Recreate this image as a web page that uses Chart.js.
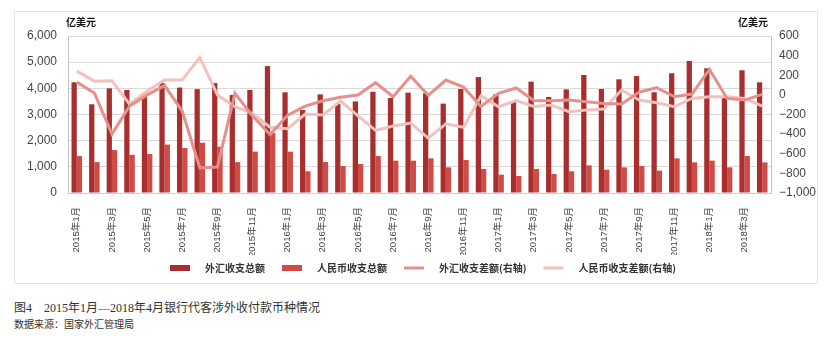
<!DOCTYPE html>
<html>
<head>
<meta charset="utf-8">
<script src="https://cdn.jsdelivr.net/npm/chart.js@4/dist/chart.umd.min.js"></script>
<style>
  body { margin: 0; background: #fff; width: 837px; height: 337px; position: relative; overflow: hidden; }
  .panel { position: absolute; left: 14px; top: 11px; width: 802px; height: 271px; border: 1px solid #e3e3e3; }
  .chart-box { position: absolute; left: 0; top: 0; width: 837px; height: 290px; }
  .caption { position: absolute; left: 14px; top: 298px; font: 12px 'Liberation Serif', 'Noto Sans CJK SC', serif; color: #333; white-space: pre; }
  .source { position: absolute; left: 14px; top: 316px; font: 10px 'Noto Sans CJK SC', sans-serif; color: #333; }
</style>
</head>
<body>
<div class="panel"></div>
<div class="chart-box"><canvas id="myChart" width="837" height="290"></canvas></div>
<div class="caption">图4　2015年1月—2018年4月银行代客涉外收付款币种情况</div>
<div class="source">数据来源：国家外汇管理局</div>
<script>
// months 2015-01 .. 2018-04
const months = [];
for (let y = 2015; y <= 2018; y++) {
  for (let m = 1; m <= 12; m++) {
    if (y === 2018 && m > 4) break;
    months.push(y + '年' + m + '月');
  }
}

// bars, left axis (亿美元)
const fxTotal = [4230, 3390, 4000, 3940, 3680, 4200, 4030, 3970, 4200, 3745, 3940, 4850,
                 3850, 3170, 3770, 3400, 3500, 3870, 3630, 3835, 3810, 3415, 3975, 4430,
                 3770, 3490, 4255, 3670, 3960, 4510, 3975, 4345, 4470, 3850, 4575, 5045,
                 4765, 3680, 4690, 4230];
const rmbTotal = [1410, 1180, 1640, 1460, 1490, 1850, 1720, 1920, 1770, 1180, 1580, 2290,
                  1580, 830, 1185, 1030, 1110, 1415, 1235, 1235, 1325, 980, 1260, 920,
                  700, 650, 920, 725, 830, 1055, 890, 980, 1030, 855, 1325, 1170,
                  1235, 980, 1415, 1170];

// lines, right axis (亿美元)
const fxBalance = [130, 20, -400, -115, 0, 95, -165, -745, -735, 15, -215, -405,
                   -206, -114, -60, -24, -2, 124, -19, 190, -5, 151, 80, -118,
                   15, 70, -58, -60, -53, -70, -87, -94, 29, 73, -19, 8,
                   260, -36, -53, 5];
const rmbBalance = [242, 140, 144, -95, 40, 151, 151, 382, 0, -121, -190, -330,
                    -345, -196, -206, -62, -215, -362, -318, -288, -440, -295, -330, -9,
                    -121, -57, -118, -104, -172, -155, -145, 49, -53, -80, -121, -36,
                    -19, -19, -36, -114];

const seriesNames = ['外汇收支总额', '人民币收支总额', '外汇收支差额(右轴)', '人民币收支差额(右轴)'];
const unitLabel = '亿美元';

const darkRed = '#a92f2f';
const lightRed = '#d04b46';
const salmon = '#e78f8a';
const pink = '#f3c1bd';

Chart.defaults.font.family = "'Liberation Sans', 'Noto Sans CJK SC', sans-serif";
Chart.defaults.color = '#444';

// legend swatches: blank lead-in so items sit further apart, bars thick, lines thin
function swatch(color, h) {
  const c = document.createElement('canvas');
  c.width = 39;
  c.height = 8;
  const x = c.getContext('2d');
  x.fillStyle = color;
  x.fillRect(9, (8 - h) / 2, 20, h);
  return c;
}
const swatches = [swatch(darkRed, 6), swatch(lightRed, 6), swatch(salmon, 3), swatch(pink, 3)];

const unitPlugin = {
  id: 'units',
  afterDraw(chart) {
    const ctx = chart.ctx;
    const area = chart.chartArea;
    ctx.save();
    ctx.font = "bold 10px 'Noto Sans CJK SC', sans-serif";
    ctx.fillStyle = '#111';
    ctx.textBaseline = 'middle';
    ctx.textAlign = 'left';
    ctx.fillText(unitLabel, area.left - 2, 22);
    ctx.textAlign = 'right';
    ctx.fillText(unitLabel, area.right - 3, 22);
    ctx.restore();
  }
};

const ctx = document.getElementById('myChart').getContext('2d');
const chart = new Chart(ctx, {
  type: 'bar',
  data: {
    labels: months,
    datasets: [
      { label: seriesNames[0], data: fxTotal, backgroundColor: darkRed, yAxisID: 'y',
        categoryPercentage: 0.6, barPercentage: 1.0, order: 2 },
      { label: seriesNames[1], data: rmbTotal, backgroundColor: lightRed, yAxisID: 'y',
        categoryPercentage: 0.6, barPercentage: 1.0, order: 3 },
      { type: 'line', label: seriesNames[2], data: fxBalance, borderColor: salmon, backgroundColor: salmon,
        borderWidth: 3, pointRadius: 0, tension: 0, yAxisID: 'y1', order: 0 },
      { type: 'line', label: seriesNames[3], data: rmbBalance, borderColor: pink, backgroundColor: pink,
        borderWidth: 3, pointRadius: 0, tension: 0, yAxisID: 'y1', order: 1 }
    ]
  },
  options: {
    responsive: false,
    maintainAspectRatio: false,
    animation: false,
    layout: { padding: { top: 36, left: 0, right: 0, bottom: 7 } },
    plugins: {
      tooltip: { enabled: false },
      legend: {
        position: 'bottom',
        labels: {
          usePointStyle: true,
          pointStyleWidth: 39,
          padding: 8,
          color: '#333',
          font: { size: 10, weight: 'bold', family: "'Noto Sans CJK SC', sans-serif" },
          sort: (a, b) => a.datasetIndex - b.datasetIndex,
          generateLabels(chart) {
            const items = Chart.defaults.plugins.legend.labels.generateLabels(chart);
            items.forEach(it => { it.pointStyle = swatches[it.datasetIndex]; });
            return items;
          }
        }
      }
    },
    scales: {
      x: {
        grid: { display: false },
        border: { color: '#c6d4d4' },
        afterFit(scale) { scale.height = 62; },
        ticks: {
          autoSkip: false,
          minRotation: 90,
          maxRotation: 90,
          padding: 6,
          font: { size: 9.5 },
          callback(value, index) { return index % 2 === 0 ? months[index] : ''; }
        }
      },
      y: {
        position: 'left',
        min: 0,
        max: 6000,
        afterFit(scale) { scale.width = 68; },
        grid: { color: '#dadada', drawTicks: false },
        border: { color: '#c4c4c4' },
        ticks: {
          stepSize: 1000,
          padding: 11,
          font: { size: 12 },
          callback: v => v.toLocaleString('en-US')
        }
      },
      y1: {
        position: 'right',
        min: -1000,
        max: 600,
        afterFit(scale) { scale.width = 66; },
        grid: { display: false, drawTicks: false },
        border: { color: '#c4c4c4' },
        ticks: {
          stepSize: 200,
          padding: 8,
          font: { size: 12 },
          callback: v => v.toLocaleString('en-US').replace('-', '\u2212')
        }
      }
    }
  },
  plugins: [unitPlugin]
});
</script>
</body>
</html>
